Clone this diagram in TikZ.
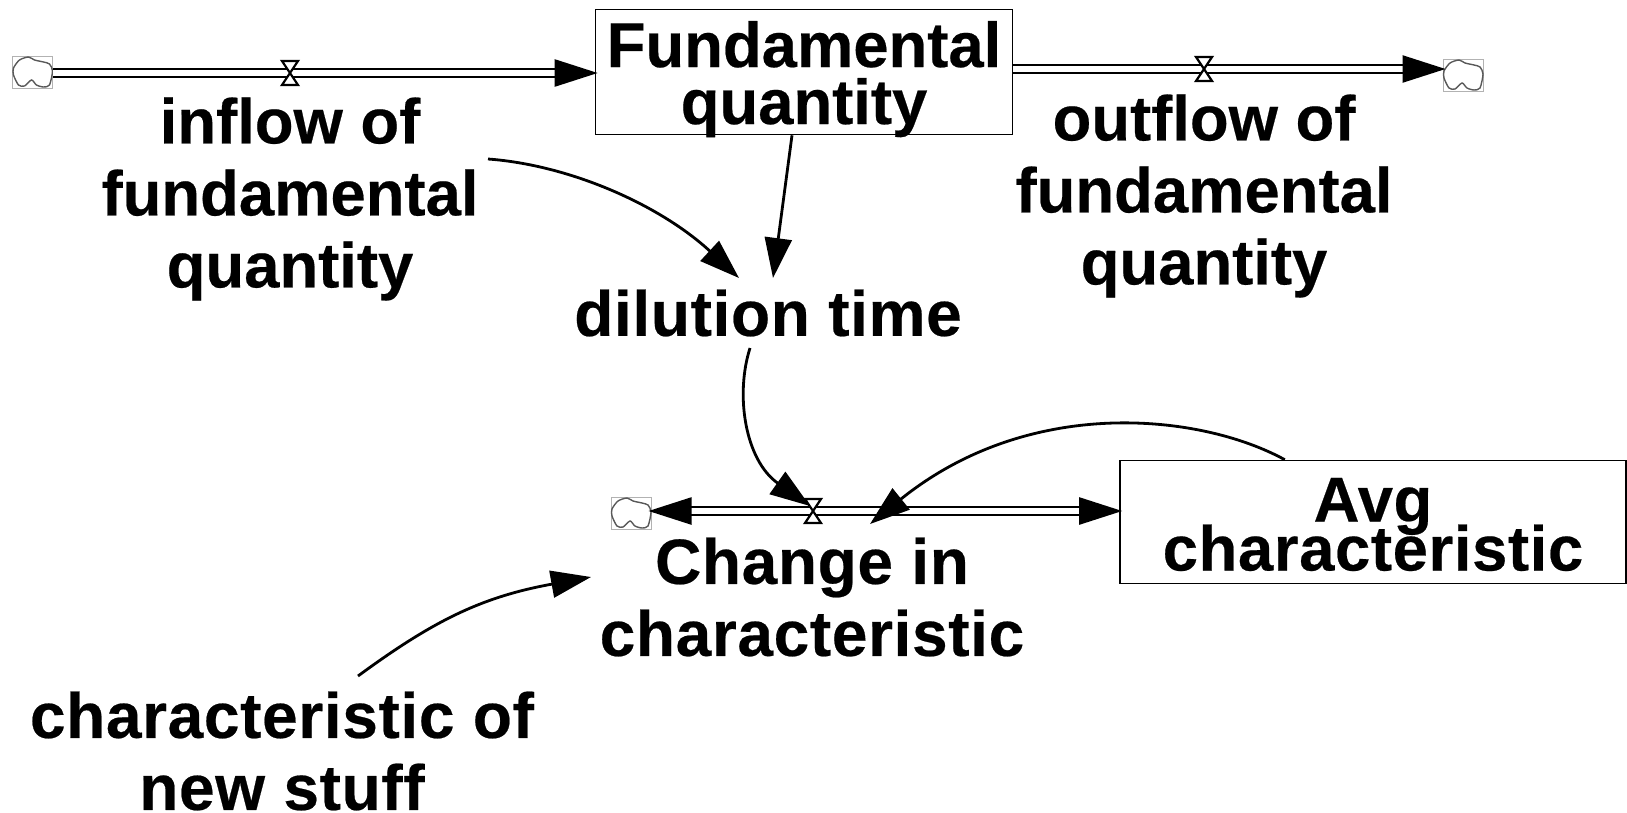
\documentclass[tikz,border=0pt]{standalone}
\usepackage{fontspec}
\setmainfont[BoldFeatures={FakeBold=0.35}]{Liberation Sans}
\usetikzlibrary{arrows.meta}
\newcommand{\widertext}{\addfontfeature{LetterSpace=1.0}}
\tikzset{
  lbl/.style={inner sep=0pt,align=center,font=\fontsize{64}{72}\selectfont\bfseries},
  plainlbl/.style={inner sep=0pt,align=center,font=\fontsize{63.4}{72}\selectfont\bfseries},
  stockbox/.style={draw=black,line width=1.6pt,inner sep=0pt,align=center,font=\fontsize{63.4}{#1}\selectfont\bfseries},
  pipe/.style={double=white,draw=black,line width=2.4pt,double distance=5.4pt},
  pipehead/.style={-{Triangle[length=43pt,width=27pt]},shorten >=-3pt},
  link/.style={draw=black,line width=2.8pt,-{Triangle[length=40pt,width=27pt]}},
  cloudbox/.style={draw=black!30,line width=1pt,minimum width=40pt,minimum height=32pt,inner sep=0pt},
  cloudline/.style={draw=black!65,line width=1.4pt},
  valvemark/.style={draw=black,line width=2.2pt,fill=white}
}
\newcommand{\cloudat}[2]{%
  \node[cloudbox] (#1) at (#2) {};
  \draw[cloudline,shift={(#1.center)},xshift=-20pt,yshift=16pt]
    plot[smooth cycle,tension=.45] coordinates {(1,12) (7,4) (16,1) (22,4) (31,6) (37,8) (40,15) (37,29) (31,31) (24,29) (19,24) (12,30) (6,29) (1,19)};
}
\newcommand{\valveat}[2]{%
  \coordinate (#1) at (#2);
  \draw[valvemark,shift={(#1)}] (-8,-12) -- (8,-12) -- (-8,12) -- (8,12) -- cycle;
}
\begin{document}
\begin{tikzpicture}[x=1pt,y=-1pt]
\lineskiplimit=-200pt
\useasboundingbox (0,0) rectangle (1627,812);
% stocks
\node[stockbox=57,minimum width=417pt,minimum height=125pt] (stockF) at (804,72) {\rule{0pt}{47pt}Fundamental\\\smash{quantity}};
\node[stockbox=49,minimum width=506pt,minimum height=123pt] (stockA) at (1373,522) {\rule{0pt}{48pt}\widertext Avg\\\widertext\smash{characteristic}};
% clouds
\cloudat{cloudA}{32.5,72}
\cloudat{cloudB}{1463,75}
\cloudat{cloudC}{631,513}
% labels
\node[plainlbl] (inflow) at (290,199) {inflow of\\fundamental\\quantity};
\node[plainlbl] (outflow) at (1204,196) {outflow of\\fundamental\\quantity};
\node[lbl] (dilution) at (768,313) {\widertext dilution time};
\node[lbl] (change) at (812,597) {\widertext Change in\\\widertext characteristic};
\node[lbl] (newstuff) at (282,751) {\widertext characteristic of\\\widertext new stuff};
% pipes
\coordinate (pA) at (cloudA.east |- 0,73);
\draw[pipe,pipehead] (pA) -- (stockF.west |- pA);
\coordinate (pB) at (stockF.east |- 0,69);
\draw[pipe,pipehead] (pB) -- (cloudB.west |- pB);
\coordinate (pC) at (813,511);
\draw[pipe,pipehead] (pC) -- (cloudC.east |- pC);
\draw[pipe,pipehead] (pC) -- (stockA.west |- pC);
% valves
\valveat{valveA}{290,73}
\valveat{valveB}{1204,69}
\valveat{valveC}{813,511}
% links
\draw[link] ([shift={(198,-40)}]inflow.center) .. controls +(82,6) and +(-79,-73) .. ([shift={(-29,-35)}]dilution.center);
\draw[link] ([xshift=-12pt]stockF.south) -- ([shift={(5,-35)}]dilution.center);
\draw[link] ([shift={(-18,35)}]dilution.center) .. controls +(-15,47) and +(-65,-46) .. ([shift={(-3,-5)}]valveC);
\draw[link] ([xshift=-342pt]stockA.north east) .. controls +(-84,-46) and +(160,-129) .. ([shift={(57,13)}]valveC);
\draw[link] ([shift={(76,-75)}]newstuff.center) .. controls +(75,-55) and +(-110,20) .. ([shift={(-221,-20)}]change.center);
\end{tikzpicture}
\end{document}
